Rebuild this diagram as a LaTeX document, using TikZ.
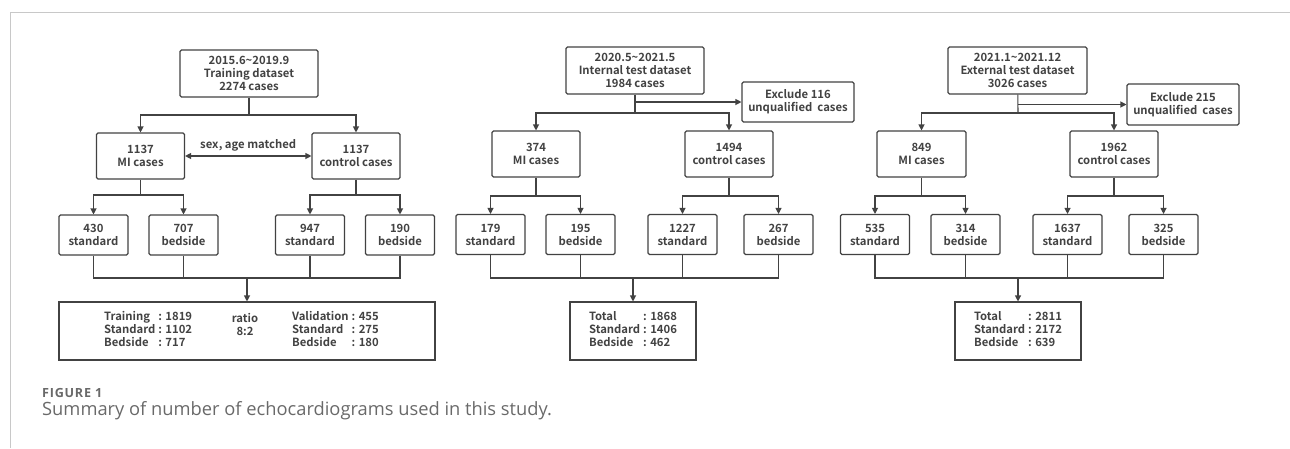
\documentclass[tikz,border=0pt]{standalone}
\usepackage{fontspec}
\setmainfont{Open Sans}
\newfontfamily\boxfont{Noto Sans CJK SC}[BoldFont={Noto Sans CJK SC Bold}]
\usetikzlibrary{arrows.meta}
\definecolor{ink}{RGB}{66,66,66}
\definecolor{rulegray}{RGB}{200,200,200}
\definecolor{capgray}{RGB}{105,105,105}
\begin{document}
\begin{tikzpicture}[x=1pt,y=-1pt,
    txt/.style={text=ink,font=\boxfont\fontsize{11.3}{13}\selectfont\bfseries,align=center,inner sep=0pt},
    bx/.style={txt,draw=ink,line width=1.1pt,rounded corners=1.5pt},
    hd/.style={bx,minimum width=138pt,minimum height=47pt},
    grp/.style={bx,minimum width=88pt,minimum height=46pt},
    lf/.style={bx,minimum width=69pt,minimum height=40pt},
    ex/.style={bx,minimum width=112pt,minimum height=40pt},
    sm/.style={txt,draw=ink,line width=1.1pt,minimum width=126pt,minimum height=58pt},
    ln/.style={draw=ink,line width=1.1pt},
    arr/.style={ln,-{Triangle[length=6pt,width=6pt]}}]
\useasboundingbox (0,0) rectangle (1290,448);
% frame
\draw[rulegray,line width=1pt] (1290,12.5) -- (10,12.5) -- (10,448);

% training set
\node[hd] (top1) at (249,73.5) {2015.6\textasciitilde2019.9\\Training dataset\\2274 cases};
\node[grp] (mi1) at (140.5,156) {1137\\MI cases};
\node[grp] (ctl1) at (356,156) {1137\\control cases};
\node[lf] (s1a) at (93.5,235) {430\\standard};
\node[lf] (b1a) at (183.5,235) {707\\bedside};
\node[lf] (s1b) at (310,235) {947\\standard};
\node[lf] (b1b) at (400,235) {190\\bedside};
\node[sm,minimum width=376pt] (tot1) at (247,331) {};
\node[txt,anchor=west] (trn) at (104,331) {\begin{tabular}{@{}l@{\hspace{3pt}}l@{}}Training&: 1819\\Standard&: 1102\\Bedside&: 717\end{tabular}};
\node[txt] (rat) at (245,324.5) {ratio\\8:2};
\node[txt,anchor=west] (val) at (292,331) {\begin{tabular}{@{}l@{\hspace{3pt}}l@{}}Validation&: 455\\Standard&: 275\\Bedside&: 180\end{tabular}};
\coordinate (j1) at (249,115);
\coordinate (m1) at (140.5,195);
\coordinate (c1) at (356,195);
\coordinate (k1) at (247,278);
\draw[ln] (top1) -- (j1);
\draw[arr] (j1) -| (mi1);
\draw[arr] (j1) -| (ctl1);
\draw[ln,{Triangle[length=6pt,width=6pt]}-{Triangle[length=6pt,width=6pt]}] (mi1) -- node[txt,above=4pt] {sex, age matched} (ctl1);
\draw[ln] (mi1) -- (m1);
\draw[ln] (ctl1) -- (c1);
\draw[arr] (m1) -| (s1a);
\draw[arr] (m1) -| (b1a);
\draw[arr] (c1) -| (s1b);
\draw[arr] (c1) -| (b1b);
\foreach \n in {s1a,b1a,s1b,b1b} \draw[ln] (\n) |- (k1);
\draw[arr] (k1) -- (tot1);

% internal test set
\node[hd] (top2) at (635,70.5) {2020.5\textasciitilde2021.5\\Internal test dataset\\1984 cases};
\node[ex] (ex2) at (798,102) {Exclude 116\\unqualified\ \ cases};
\node[grp] (mi2) at (536,154) {374\\MI cases};
\node[grp] (ctl2) at (729,154) {1494\\control cases};
\node[lf] (s2a) at (490.5,234.5) {179\\standard};
\node[lf] (b2a) at (580.5,234.5) {195\\bedside};
\node[lf] (s2b) at (682.5,234.5) {1227\\standard};
\node[lf] (b2b) at (778.5,234.5) {267\\bedside};
\node[sm] (tot2) at (633,331) {\begin{tabular}{@{}l@{\hspace{3pt}}l@{}}Total&: 1868\\Standard&: 1406\\Bedside&: 462\end{tabular}};
\coordinate (e2) at (635,102);
\coordinate (j2) at (635,113);
\coordinate (m2) at (536,196);
\coordinate (c2) at (729,196);
\coordinate (k2) at (633,278);
\draw[ln] (top2) -- (j2);
\draw[arr] (e2) -- (ex2);
\draw[arr] (j2) -| (mi2);
\draw[arr] (j2) -| (ctl2);
\draw[ln] (mi2) -- (m2);
\draw[ln] (ctl2) -- (c2);
\draw[arr] (m2) -| (s2a);
\draw[arr] (m2) -| (b2a);
\draw[arr] (c2) -| (s2b);
\draw[arr] (c2) -| (b2b);
\foreach \n in {s2a,b2a,s2b,b2b} \draw[ln] (\n) |- (k2);
\draw[arr] (k2) -- (tot2);

% external test set
\node[hd,minimum width=139pt] (top3) at (1017.5,70.5) {2021.1\textasciitilde2021.12\\External test dataset\\3026 cases};
\node[ex,minimum height=41pt] (ex3) at (1183,104.5) {Exclude 215\\unqualified\ \ cases};
\node[grp,minimum width=89pt] (mi3) at (921.5,154) {849\\MI cases};
\node[grp] (ctl3) at (1114,154) {1962\\control cases};
\node[lf] (s3a) at (875,234.5) {535\\standard};
\node[lf] (b3a) at (965.5,234.5) {314\\bedside};
\node[lf] (s3b) at (1067.5,234.5) {1637\\standard};
\node[lf] (b3b) at (1163.5,234.5) {325\\bedside};
\node[sm] (tot3) at (1018,331) {\begin{tabular}{@{}l@{\hspace{3pt}}l@{}}Total&: 2811\\Standard&: 2172\\Bedside&: 639\end{tabular}};
\coordinate (e3) at (1018,104.5);
\coordinate (j3) at (1018,113);
\coordinate (m3) at (921.5,196);
\coordinate (c3) at (1114,196);
\coordinate (k3) at (1018,278);
\draw[ln] (top3) -- (j3);
\draw[arr] (e3) -- (ex3);
\draw[arr] (j3) -| (mi3);
\draw[arr] (j3) -| (ctl3);
\draw[ln] (mi3) -- (m3);
\draw[ln] (ctl3) -- (c3);
\draw[arr] (m3) -| (s3a);
\draw[arr] (m3) -| (b3a);
\draw[arr] (c3) -| (s3b);
\draw[arr] (c3) -| (b3b);
\foreach \n in {s3a,b3a,s3b,b3b} \draw[ln] (\n) |- (k3);
\draw[arr] (k3) -- (tot3);

% caption
\node[anchor=base west,inner sep=0pt,text=capgray,font=\fontsize{12.6}{15}\selectfont\bfseries\addfontfeature{LetterSpace=6}] (fig) at (42,397) {FIGURE 1};
\node[anchor=base west,inner sep=0pt,text=capgray,font=\fontsize{18.3}{21}\selectfont] (cap) at (42,415) {Summary of number of echocardiograms used in this study.};
\end{tikzpicture}
\end{document}
